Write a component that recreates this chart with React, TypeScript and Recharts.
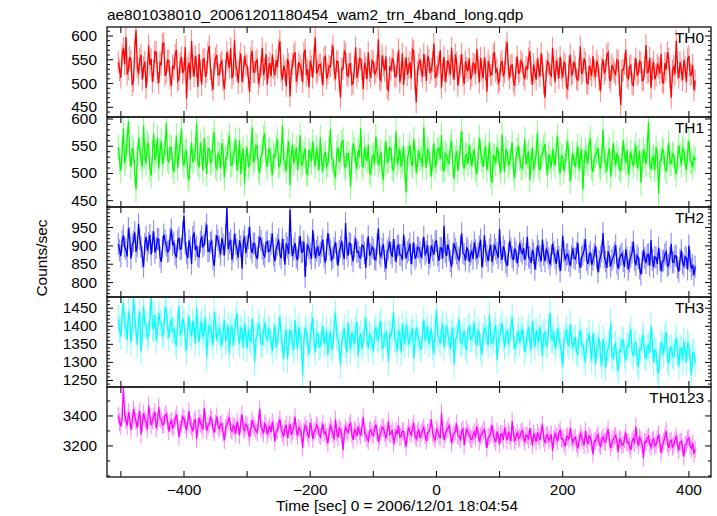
import { ComposedChart, Line, Bar, XAxis, YAxis } from "recharts";

// light curve, every 2nd 1 s bin
const T_START = -504;
const T_STEP = 2;

const TH0 = [
  545, 528, 512, 561, 575, 540, 598, 519, 530, 556, 548, 497, 505, 572, 612, 534, 520, 551, 560, 508,
  535, 546, 490, 525, 580, 539, 552, 503, 528, 567, 566, 521, 501, 544, 540, 583, 585, 516, 523, 549,
  548, 511, 495, 538, 532, 560, 571, 505, 510, 543, 556, 522, 528, 577, 468, 531, 544, 509, 590, 536,
  515, 558, 537, 493, 562, 527, 498, 550, 552, 514, 524, 565, 579, 530, 506, 487, 541, 553, 560, 518,
  519, 542, 547, 506, 488, 529, 566, 548, 533, 574, 511, 520, 592, 537, 528, 501, 545, 563, 503, 526,
  558, 540, 537, 512, 482, 555, 569, 524, 524, 546, 550, 499, 514, 535, 575, 518, 530, 562, 498, 533,
  543, 515, 561, 532, 517, 549, 534, 570, 589, 523, 508, 538, 526, 494, 552, 541, 473, 527, 541, 559,
  566, 504, 519, 545, 538, 528, 503, 564, 571, 517, 530, 492, 548, 536, 512, 556, 597, 521, 527, 539,
  540, 523, 496, 554, 557, 510, 521, 537, 535, 561, 580, 529, 509, 547, 546, 505, 470, 532, 531, 568,
  563, 519, 515, 541, 542, 498, 500, 535, 576, 512, 526, 553, 551, 530, 488, 544, 534, 509, 565, 526,
  512, 548, 545, 520, 525, 536, 593, 511, 506, 559, 538, 527, 557, 490, 486, 534, 529, 552, 548, 515,
  514, 541, 571, 503, 522, 563, 497, 530, 555, 518, 533, 545, 510, 572, 568, 507, 460, 525, 540, 551,
  527, 514, 562, 539, 505, 558, 549, 522, 531, 546, 584, 513, 517, 534, 543, 570, 491, 528, 556, 504,
  524, 549, 537, 519, 575, 532, 508, 561, 545, 495, 520, 538, 562, 516, 499, 547, 533, 526, 553, 509,
  516, 543, 540, 521, 572, 536, 502, 554, 528, 511, 555, 530, 483, 547, 536, 518, 519, 560, 566, 525,
  530, 501, 507, 542, 548, 515, 524, 567, 587, 529, 511, 538, 539, 504, 495, 533, 557, 520, 526, 548,
  543, 517, 509, 535, 531, 553, 568, 522, 497, 540, 524, 508, 552, 533, 515, 564, 538, 500, 470, 527,
  546, 541, 520, 516, 575, 534, 503, 549, 532, 511, 556, 529, 512, 546, 540, 493, 489, 536, 561, 518,
  522, 546, 535, 510, 507, 531, 578, 520, 526, 553, 544, 502, 499, 537, 530, 516, 558, 529, 513, 548,
  537, 507, 484, 533, 551, 521, 528, 560, 565, 512, 505, 539, 532, 524, 519, 550, 547, 497, 455, 528,
  528, 541, 571, 515, 510, 536, 539, 499, 496, 531, 553, 518, 522, 547, 544, 506, 508, 535, 581, 523,
  525, 554, 490, 530, 546, 509, 517, 540, 534, 521, 562, 503, 501, 543, 529, 566, 552, 514, 470, 527,
  537, 519, 590, 532, 512, 545, 528, 507, 549, 534, 503, 551, 558, 517, 520, 539, 486, 506,
];

const TH1 = [
  548, 522, 505, 541, 582, 519, 530, 563, 596, 534, 512, 547, 541, 503, 470, 529, 565, 544, 527, 512,
  588, 531, 518, 557, 550, 508, 496, 538, 573, 524, 536, 566, 509, 541, 560, 517, 531, 549, 592, 526,
  520, 548, 547, 515, 503, 533, 569, 510, 535, 552, 582, 527, 514, 539, 541, 496, 488, 530, 557, 521,
  526, 544, 593, 518, 511, 556, 538, 505, 565, 532, 499, 546, 545, 519, 522, 561, 576, 513, 508, 537,
  533, 509, 556, 540, 492, 528, 527, 553, 570, 516, 515, 534, 543, 562, 505, 525, 561, 498, 530, 545,
  482, 529, 548, 511, 519, 537, 585, 520, 527, 552, 550, 507, 501, 531, 538, 565, 574, 523, 512, 542,
  545, 517, 497, 535, 529, 550, 563, 512, 516, 538, 588, 526, 523, 504, 540, 559, 478, 532, 552, 519,
  531, 547, 507, 528, 570, 514, 520, 536, 546, 501, 498, 543, 535, 522, 559, 530, 513, 548, 528, 506,
  566, 524, 504, 533, 539, 512, 517, 546, 581, 529, 525, 500, 492, 538, 548, 521, 530, 557, 562, 515,
  509, 536, 537, 519, 476, 527, 555, 544, 521, 508, 543, 531, 583, 516, 511, 549, 530, 523, 552, 503,
  497, 530, 534, 518, 568, 541, 515, 527, 540, 502, 488, 536, 559, 521, 524, 548, 546, 510, 506, 533,
  577, 516, 529, 545, 512, 524, 551, 507, 465, 529, 536, 552, 520, 513, 563, 538, 501, 520, 542, 527,
  527, 512, 585, 534, 510, 546, 538, 519, 494, 530, 556, 511, 522, 543, 547, 526, 571, 508, 505, 537,
  533, 522, 518, 549, 560, 515, 490, 528, 541, 505, 526, 553, 578, 520, 509, 534, 535, 517, 552, 531,
  514, 536, 544, 509, 498, 527, 566, 541, 525, 512, 537, 550, 506, 524, 558, 497, 483, 533, 530, 518,
  549, 539, 516, 502, 572, 529, 503, 545, 539, 514, 521, 535, 557, 508, 492, 526, 543, 551, 528, 511,
  510, 529, 563, 516, 532, 540, 488, 523, 548, 506, 519, 537, 575, 514, 506, 531, 537, 547, 554, 520,
  497, 535, 526, 511, 545, 528, 514, 549, 568, 517, 500, 532, 531, 504, 521, 542, 559, 525, 485, 513,
  538, 521, 512, 534, 550, 508, 527, 545, 470, 519, 543, 530, 518, 553, 565, 511, 502, 528, 533, 540,
  547, 515, 509, 532, 580, 523, 522, 504, 536, 546, 494, 518, 556, 529, 515, 537, 529, 509, 505, 526,
  561, 530, 520, 543, 498, 517, 539, 524, 513, 536, 552, 509, 527, 541, 483, 522, 544, 531, 517, 548,
  595, 514, 508, 527, 531, 506, 548, 535, 463, 520, 526, 544, 540, 512, 503, 529, 557, 518, 519, 536,
  534, 510, 498, 527, 551, 533, 515, 546, 542, 519, 507, 538, 560, 524, 521, 511, 530, 525,
];

const TH2 = [
  905, 888, 872, 914, 928, 896, 890, 871, 948, 922, 865, 903, 912, 937, 884, 899, 960, 918, 897, 869,
  843, 906, 925, 887, 908, 930, 876, 911, 939, 882, 894, 919, 918, 870, 856, 897, 931, 915, 901, 884,
  887, 921, 945, 902, 910, 877, 868, 913, 922, 891, 893, 938, 982, 906, 880, 867, 915, 896, 851, 924,
  937, 889, 899, 873, 870, 911, 926, 898, 904, 934, 958, 885, 886, 908, 913, 862, 845, 900, 929, 916,
  897, 876, 921, 903, 874, 929, 1003, 891, 908, 917, 862, 884, 933, 905, 890, 868, 915, 899, 838, 912,
  926, 880, 899, 921, 952, 893, 881, 906, 907, 872, 866, 898, 924, 915, 893, 877, 871, 909, 912, 885,
  886, 905, 934, 874, 858, 893, 903, 918, 877, 866, 920, 889, 849, 907, 896, 878, 999, 902, 872, 891,
  908, 869, 861, 896, 927, 883, 884, 912, 815, 876, 901, 893, 879, 865, 943, 904, 866, 887, 898, 873,
  882, 899, 917, 871, 854, 890, 935, 904, 888, 862, 869, 895, 910, 879, 846, 886, 897, 914, 878, 865,
  962, 893, 873, 908, 905, 876, 858, 897, 921, 883, 885, 869, 867, 902, 900, 881, 840, 893, 926, 875,
  878, 897, 891, 866, 862, 904, 947, 880, 871, 892, 905, 859, 838, 885, 893, 912, 880, 870, 919, 888,
  856, 899, 902, 876, 874, 861, 930, 894, 866, 883, 889, 907, 851, 878, 910, 865, 873, 896, 895, 882,
  868, 893, 925, 877, 884, 902, 851, 869, 901, 888, 876, 911, 914, 874, 859, 895, 893, 866, 955, 883,
  872, 904, 888, 859, 843, 879, 907, 892, 880, 868, 862, 898, 934, 881, 877, 860, 895, 889, 857, 876,
  885, 864, 910, 889, 866, 879, 898, 917, 841, 871, 929, 885, 874, 858, 890, 903, 856, 876, 903, 891,
  880, 867, 946, 882, 862, 899, 887, 855, 845, 878, 914, 893, 870, 861, 893, 884, 852, 872, 908, 886,
  879, 894, 862, 877, 925, 869, 868, 853, 889, 880, 835, 864, 901, 887, 873, 858, 917, 876, 858, 890,
  882, 866, 849, 873, 906, 883, 867, 851, 890, 870, 831, 862, 928, 884, 861, 875, 878, 859, 846, 871,
  893, 867, 864, 881, 908, 856, 840, 870, 876, 889, 919, 862, 851, 874, 883, 848, 862, 877, 900, 866,
  828, 858, 871, 884, 935, 869, 857, 840, 885, 872, 844, 861, 869, 880, 902, 853, 838, 866, 874, 879,
  859, 843, 891, 868, 835, 857, 870, 882, 912, 861, 848, 874, 866, 839, 822, 855, 889, 867, 853, 876,
  877, 846, 916, 862, 842, 870, 868, 851, 895, 863, 831, 858, 860, 877, 884, 845, 849, 869, 906, 856,
  855, 874, 872, 841, 830, 862, 888, 853, 846, 870, 867, 836, 901, 859, 838, 848, 820, 844,
];

const TH3 = [
  1420, 1391, 1372, 1433, 1465, 1405, 1398, 1362, 1441, 1418, 1356, 1397, 1480, 1426, 1388, 1349, 1412, 1440, 1330, 1385,
  1455, 1407, 1402, 1368, 1376, 1423, 1490, 1394, 1395, 1431, 1361, 1389, 1437, 1411, 1409, 1374, 1382, 1452, 1448, 1399,
  1367, 1404, 1421, 1386, 1393, 1358, 1345, 1410, 1456, 1377, 1380, 1422, 1408, 1363, 1332, 1396, 1428, 1381, 1372, 1415,
  1397, 1352, 1450, 1389, 1356, 1401, 1414, 1370, 1384, 1427, 1313, 1379, 1403, 1392, 1375, 1348, 1439, 1406, 1361, 1383,
  1394, 1371, 1346, 1387, 1418, 1359, 1370, 1403, 1325, 1385, 1402, 1348, 1381, 1414, 1436, 1369, 1352, 1397, 1389, 1340,
  1408, 1376, 1338, 1392, 1366, 1355, 1421, 1383, 1300, 1364, 1377, 1408, 1395, 1351, 1349, 1386, 1412, 1373, 1360, 1395,
  1383, 1357, 1331, 1372, 1404, 1341, 1362, 1389, 1427, 1366, 1345, 1310, 1371, 1392, 1308, 1354, 1390, 1378, 1353, 1334,
  1417, 1369, 1337, 1398, 1375, 1346, 1264, 1361, 1396, 1384, 1350, 1322, 1368, 1401, 1425, 1359, 1328, 1376, 1381, 1343,
  1346, 1374, 1400, 1352, 1359, 1388, 1320, 1363, 1386, 1337, 1342, 1405, 1437, 1371, 1365, 1344, 1291, 1356, 1377, 1396,
  1349, 1327, 1410, 1368, 1335, 1384, 1369, 1350, 1392, 1413, 1318, 1366, 1380, 1339, 1357, 1391, 1424, 1362, 1340, 1378,
  1372, 1354, 1330, 1387, 1398, 1366, 1361, 1403, 1415, 1339, 1345, 1376, 1384, 1358, 1302, 1381, 1373, 1394, 1440, 1365,
  1356, 1332, 1391, 1374, 1327, 1408, 1368, 1349, 1405, 1383, 1349, 1367, 1382, 1396, 1310, 1357, 1396, 1378, 1363, 1341,
  1337, 1385, 1418, 1360, 1376, 1399, 1350, 1371, 1394, 1343, 1324, 1390, 1446, 1378, 1368, 1352, 1389, 1407, 1341, 1369,
  1402, 1381, 1358, 1336, 1380, 1397, 1295, 1362, 1371, 1388, 1420, 1355, 1352, 1374, 1387, 1343, 1333, 1392, 1399, 1366,
  1364, 1382, 1411, 1357, 1346, 1393, 1378, 1340, 1322, 1370, 1397, 1386, 1369, 1348, 1432, 1375, 1351, 1362, 1385, 1404,
  1306, 1359, 1374, 1391, 1409, 1367, 1342, 1379, 1390, 1353, 1360, 1398, 1425, 1371, 1336, 1350, 1371, 1389, 1355, 1377,
  1393, 1368, 1329, 1351, 1380, 1397, 1361, 1334, 1416, 1374, 1343, 1389, 1372, 1355, 1398, 1366, 1317, 1380, 1384, 1346,
  1352, 1401, 1437, 1363, 1362, 1385, 1338, 1357, 1395, 1372, 1348, 1331, 1289, 1359, 1375, 1392, 1356, 1344, 1406, 1369,
  1340, 1361, 1368, 1329, 1323, 1374, 1389, 1347, 1351, 1320, 1301, 1358, 1362, 1381, 1335, 1306, 1382, 1349, 1294, 1337,
  1347, 1369, 1318, 1290, 1365, 1342, 1283, 1326, 1339, 1355, 1410, 1317, 1311, 1345, 1352, 1298, 1276, 1333, 1330, 1362,
  1362, 1321, 1305, 1346, 1344, 1373, 1392, 1330, 1317, 1351, 1355, 1300, 1287, 1339, 1336, 1364, 1378, 1315, 1312, 1343,
  1348, 1326, 1402, 1357, 1299, 1334, 1331, 1281, 1270, 1318, 1357, 1345, 1322, 1369, 1384, 1308, 1296, 1338, 1341, 1319,
  1315, 1350, 1368, 1329, 1289, 1341, 1337, 1305, 1358, 1332, 1301, 1355, 1346, 1312, 1263, 1328, 1325, 1297,
];

const TH0123 = [
  3402, 3358, 3330, 3391, 3585, 3417, 3371, 3335, 3425, 3386, 3308, 3364, 3446, 3402, 3362, 3320, 3390, 3433, 3276, 3351,
  3418, 3379, 3355, 3312, 3471, 3395, 3340, 3368, 3397, 3426, 3318, 3359, 3460, 3383, 3372, 3341, 3345, 3404, 3411, 3366,
  3296, 3347, 3368, 3321, 3333, 3379, 3408, 3356, 3262, 3314, 3350, 3392, 3384, 3338, 3305, 3361, 3432, 3343, 3328, 3297,
  3362, 3380, 3247, 3325, 3389, 3352, 3337, 3308, 3452, 3370, 3300, 3334, 3346, 3391, 3375, 3317, 3289, 3349, 3398, 3330,
  3315, 3343, 3351, 3288, 3237, 3322, 3342, 3366, 3394, 3309, 3298, 3337, 3326, 3281, 3362, 3327, 3271, 3354, 3410, 3316,
  3303, 3345, 3335, 3293, 3258, 3320, 3372, 3339, 3319, 3301, 3289, 3357, 3447, 3324, 3310, 3282, 3348, 3331, 3275, 3311,
  3330, 3292, 3361, 3318, 3230, 3299, 3302, 3344, 3379, 3310, 3286, 3263, 3319, 3341, 3254, 3306, 3345, 3274, 3297, 3329,
  3395, 3300, 3268, 3322, 3312, 3285, 3187, 3296, 3338, 3317, 3281, 3253, 3356, 3325, 3246, 3291, 3305, 3339, 3327, 3279,
  3262, 3304, 3349, 3283, 3294, 3261, 3218, 3298, 3335, 3310, 3280, 3244, 3377, 3293, 3255, 3319, 3306, 3270, 3172, 3287,
  3322, 3301, 3289, 3336, 3356, 3275, 3240, 3308, 3297, 3266, 3331, 3295, 3268, 3323, 3392, 3288, 3279, 3251, 3233, 3302,
  3308, 3279, 3271, 3315, 3343, 3290, 3226, 3264, 3290, 3327, 3317, 3285, 3250, 3298, 3364, 3276, 3282, 3309, 3215, 3257,
  3301, 3283, 3338, 3260, 3262, 3300, 3296, 3242, 3195, 3281, 3323, 3293, 3275, 3318, 3352, 3269, 3247, 3286, 3306, 3253,
  3286, 3303, 3325, 3268, 3232, 3289, 3294, 3321, 3378, 3280, 3258, 3239, 3311, 3297, 3270, 3252, 3419, 3306, 3241, 3277,
  3302, 3318, 3335, 3284, 3219, 3262, 3284, 3299, 3350, 3271, 3263, 3245, 3297, 3314, 3205, 3266, 3316, 3288, 3274, 3248,
  3243, 3271, 3292, 3255, 3330, 3289, 3228, 3266, 3277, 3301, 3310, 3247, 3186, 3259, 3265, 3283, 3341, 3273, 3249, 3226,
  3296, 3268, 3212, 3281, 3279, 3240, 3322, 3276, 3238, 3295, 3270, 3232, 3365, 3280, 3233, 3261, 3287, 3250, 3256, 3291,
  3301, 3259, 3226, 3274, 3268, 3243, 3319, 3262, 3204, 3285, 3256, 3229, 3290, 3264, 3237, 3296, 3342, 3251, 3218, 3270,
  3275, 3236, 3250, 3278, 3166, 3245, 3283, 3260, 3231, 3287, 3305, 3248, 3247, 3222, 3196, 3263, 3266, 3241, 3320, 3257,
  3222, 3249, 3259, 3215, 3184, 3236, 3281, 3258, 3238, 3203, 3300, 3244, 3210, 3267, 3253, 3221, 3143, 3234, 3232, 3256,
  3275, 3212, 3198, 3240, 3262, 3227, 3226, 3273, 3312, 3235, 3187, 3218, 3244, 3261, 3270, 3229, 3159, 3246, 3238, 3205,
  3211, 3243, 3289, 3220, 3226, 3197, 3172, 3232, 3251, 3218, 3330, 3241, 3203, 3256, 3240, 3209, 3119, 3228, 3225, 3252,
  3264, 3213, 3192, 3235, 3246, 3201, 3210, 3247, 3276, 3224, 3154, 3207, 3229, 3259, 3301, 3216, 3188, 3230, 3237, 3194,
  3205, 3239, 3262, 3211, 3170, 3226, 3231, 3190, 3128, 3208, 3214, 3245, 3255, 3198, 3183, 3219, 3146, 3177,
];

// typical 1-sigma error of a 1 s bin
const ERR_TH0 = 23;
const ERR_TH1 = 23;
const ERR_TH2 = 30;
const ERR_TH3 = 37;
const ERR_TH0123 = 58;

const X_TICKS = [-500, -400, -300, -200, -100, 0, 100, 200, 300, 400];
const X_LABELS = [-400, -200, 0, 200, 400];

const TH0_MAJOR = [450, 500, 550, 600];
const TH1_MAJOR = [450, 500, 550, 600];
const TH2_MAJOR = [800, 850, 900, 950];
const TH3_MAJOR = [1250, 1300, 1350, 1400, 1450];
const TH0123_MAJOR = [3200, 3400];

const TITLE = "ae801038010_20061201180454_wam2_trn_4band_long.qdp";
const Y_TITLE = "Counts/sec";
const X_TITLE = "Time [sec] 0 = 2006/12/01 18:04:54";

const W = 717;
const PLOT_L = 107;
const PLOT_R = 711;
const TOP = 27;
const PANEL_H = 90;
const PAD = 10;
const X_DOMAIN: [number, number] = [-522, 435];
const FONT = "'Liberation Sans', Arial, Helvetica, sans-serif";

const panels = [
  { name: "TH0", values: TH0, err: ERR_TH0, domain: [429.6, 618.9], majors: TH0_MAJOR, minor: 10, color: "#ff0000", light: "#ff8c8c" },
  { name: "TH1", values: TH1, err: ERR_TH1, domain: [438.4, 603.7], majors: TH1_MAJOR, minor: 10, color: "#00ff00", light: "#8cff8c" },
  { name: "TH2", values: TH2, err: ERR_TH2, domain: [760.7, 1006], majors: TH2_MAJOR, minor: 10, color: "#0000ff", light: "#8c8cff" },
  { name: "TH3", values: TH3, err: ERR_TH3, domain: [1232, 1481], majors: TH3_MAJOR, minor: 10, color: "#00ffff", light: "#8cffff" },
  { name: "TH0123", values: TH0123, err: ERR_TH0123, domain: [2993, 3593], majors: TH0123_MAJOR, minor: 100, color: "#ff00ff", light: "#ff8cff" },
];

const minorTicks = (domain: number[], step: number) => {
  const out: number[] = [];
  for (let v = Math.ceil(domain[0] / step) * step; v <= domain[1]; v += step) out.push(v);
  return out;
};

const fmt = (v: number) => (v < 0 ? "\u2212" + Math.abs(v) : String(v));

// PGPLOT-ish lettering: a bit wider than Arial
const Label = ({ x, y, anchor = "start", rotate = 0, children }: any) => (
  <text
    transform={`translate(${x},${y}) rotate(${rotate}) scale(1.1,1)`}
    textAnchor={anchor}
    fontSize={14}
    fontFamily={FONT}
    fill="#000"
  >
    {children}
  </text>
);

const YTick = (props: any) => {
  const { y, payload, majors } = props;
  const v = payload.value;
  const major = majors.includes(v);
  const len = major ? 6 : 3;
  return (
    <g>
      <line x1={PLOT_L} x2={PLOT_L + len} y1={y} y2={y} stroke="#000" strokeWidth={1} />
      <line x1={PLOT_R - len} x2={PLOT_R} y1={y} y2={y} stroke="#000" strokeWidth={1} />
      {major && (
        <Label x={97} y={y + 5} anchor="end">
          {v}
        </Label>
      )}
    </g>
  );
};

const XTick = (props: any) => {
  const { x, payload, showLabels } = props;
  const v = payload.value;
  const top = PAD;
  const bottom = PAD + PANEL_H;
  return (
    <g>
      <line x1={x} x2={x} y1={top} y2={top + 6} stroke="#000" strokeWidth={1} />
      <line x1={x} x2={x} y1={bottom} y2={bottom - 6} stroke="#000" strokeWidth={1} />
      {showLabels && X_LABELS.includes(v) && (
        <Label x={x} y={bottom + 18} anchor="middle">
          {fmt(v)}
        </Label>
      )}
    </g>
  );
};

const Panel = ({ p, index, last }: { p: (typeof panels)[number]; index: number; last: boolean }) => {
  const rows = p.values.map((v, i) => ({ t: T_START + i * T_STEP, v, r: [v - p.err, v + p.err] }));
  const bottomPad = last ? 30 : PAD;
  return (
    <div style={{ position: "absolute", left: 0, top: TOP + index * PANEL_H - PAD }}>
      <ComposedChart
        width={W}
        height={PANEL_H + PAD + bottomPad}
        data={rows}
        margin={{ top: PAD, right: W - PLOT_R, bottom: bottomPad - 1, left: PLOT_L - 1 }}
      >
        <XAxis
          dataKey="t"
          type="number"
          domain={X_DOMAIN}
          allowDataOverflow
          ticks={X_TICKS}
          interval={0}
          height={1}
          axisLine={false}
          tickLine={false}
          tick={(tp: any) => <XTick {...tp} showLabels={last} />}
        />
        <YAxis
          type="number"
          domain={p.domain}
          allowDataOverflow
          ticks={minorTicks(p.domain, p.minor)}
          interval={0}
          width={1}
          axisLine={false}
          tickLine={false}
          tick={(tp: any) => <YTick {...tp} majors={p.majors} />}
        />
        <Bar dataKey="r" fill={p.light} barSize={1.3} isAnimationActive={false} />
        <Line
          dataKey="v"
          type="linear"
          stroke={p.color}
          strokeWidth={1.3}
          dot={false}
          activeDot={false}
          isAnimationActive={false}
        />
      </ComposedChart>
    </div>
  );
};

export default function App() {
  return (
    <div style={{ position: "absolute", left: 0, top: 0, width: W, height: 516, background: "#fff" }}>
      {panels.map((p, i) => (
        <Panel key={p.name} p={p} index={i} last={i === panels.length - 1} />
      ))}
      <svg width={W} height={516} style={{ position: "absolute", left: 0, top: 0, pointerEvents: "none" }}>
        {panels.map((p, i) => (
          <g key={p.name}>
            <rect
              x={PLOT_L}
              y={TOP + i * PANEL_H}
              width={PLOT_R - PLOT_L}
              height={PANEL_H}
              fill="none"
              stroke="#111"
              strokeWidth={1.3}
            />
            <Label x={704} y={TOP + i * PANEL_H + 16} anchor="end">
              {p.name}
            </Label>
          </g>
        ))}
        <Label x={PLOT_L} y={20}>
          {TITLE}
        </Label>
        <Label x={47} y={258} anchor="middle" rotate={-90}>
          {Y_TITLE}
        </Label>
        <Label x={397} y={511} anchor="middle">
          {X_TITLE}
        </Label>
      </svg>
    </div>
  );
}
